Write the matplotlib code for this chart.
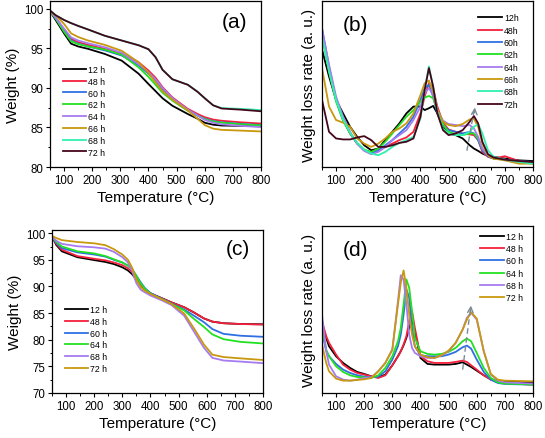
import matplotlib
matplotlib.use('Agg')
import matplotlib.pyplot as plt
from matplotlib.ticker import MultipleLocator, NullLocator

plt.rcParams['font.family'] = ['Liberation Sans', 'DejaVu Sans']

# ---------------- Panel (a): TGA ----------------
T_a = [50, 70, 100, 125, 150, 185, 245, 305, 365, 400, 425, 450, 485, 540, 575, 600, 630, 660, 730, 800]
a_12h = [99.7, 98.6, 96.9, 95.6, 95.25, 94.95, 94.3, 93.45, 91.8, 90.5, 89.6, 88.7, 87.75, 86.7, 86.1, 85.6, 85.35, 85.25, 85.2, 85.15]
a_48h = [99.7, 98.9, 97.4, 96.2, 95.8, 95.45, 94.95, 94.3, 93.25, 92.2, 91.3, 90.1, 88.8, 87.35, 86.7, 86.3, 86.0, 85.85, 85.65, 85.5]
a_60h = [99.7, 98.8, 97.2, 96.0, 95.6, 95.25, 94.75, 94.1, 92.85, 91.8, 90.9, 89.8, 88.6, 87.2, 86.5, 86.1, 85.8, 85.65, 85.45, 85.3]
a_62h = [99.7, 98.8, 97.1, 95.9, 95.55, 95.25, 94.85, 94.2, 92.6, 91.4, 90.4, 89.4, 88.4, 87.1, 86.5, 86.05, 85.75, 85.6, 85.4, 85.25]
a_64h = [99.7, 98.9, 97.5, 96.4, 96.0, 95.65, 95.15, 94.45, 93.0, 92.0, 91.1, 90.0, 88.7, 87.25, 86.5, 85.95, 85.6, 85.4, 85.2, 85.05]
a_66h = [99.6, 99.2, 98.1, 96.9, 96.45, 96.0, 95.45, 94.7, 93.25, 91.9, 90.7, 89.6, 88.5, 87.15, 86.1, 85.3, 84.85, 84.7, 84.6, 84.5]
a_68h = [99.8, 99.2, 98.6, 98.2, 97.85, 97.4, 96.6, 96.0, 95.4, 94.9, 93.9, 92.3, 91.1, 90.4, 89.5, 88.7, 87.8, 87.45, 87.35, 87.2]
a_72h = [99.8, 99.2, 98.6, 98.2, 97.85, 97.4, 96.6, 96.0, 95.4, 94.9, 93.9, 92.3, 91.1, 90.4, 89.5, 88.7, 87.8, 87.4, 87.25, 87.05]
labels_a = ['12 h', '48 h', '60 h', '62 h', '64 h', '66 h', '68 h', '72 h']

# ---------------- Panel (b): DTG (a.u.) ----------------
T_b = [50, 75, 100, 125, 150, 175, 200, 225, 250, 275, 300, 325, 350, 375, 400, 415, 430, 445,
       460, 480, 500, 525, 550, 575, 590, 605, 620, 640, 660, 700, 750, 800]
b_12h = [70.7, 54.5, 40.4, 32.3, 24.2, 18.2, 13.1, 10.1, 11.1, 16.2, 21.2, 26.3, 32.3, 36.4, 36.4, 34.3,
         35.4, 36.8, 32.3, 24.2, 20.2, 19.2, 17.2, 13.1, 11.1, 9.7, 8.1, 6.7, 6.1, 5.1, 4.0, 3.6]
b_48h = [80.8, 58.6, 40.4, 28.3, 20.2, 14.1, 10.1, 8.1, 9.7, 12.1, 14.1, 16.2, 17.8, 21.2, 32.3, 42.4,
         50.5, 47.5, 36.4, 26.7, 22.6, 21.2, 20.2, 19.6, 19.2, 16.2, 9.1, 6.1, 5.1, 6.5, 3.6, 2.6]
b_60h = [83.8, 60.6, 40.4, 28.3, 20.2, 14.1, 10.1, 8.1, 10.1, 13.1, 16.2, 20.2, 24.2, 30.3, 40.4, 47.5,
         49.5, 42.4, 32.3, 25.3, 22.2, 21.2, 20.2, 21.2, 20.2, 16.2, 10.1, 6.5, 5.1, 4.4, 3.6, 3.0]
b_62h = [78.8, 57.6, 39.4, 27.9, 20.2, 14.5, 10.5, 9.1, 11.1, 15.2, 20.2, 25.3, 30.3, 34.3, 39.4, 41.8,
         42.8, 41.4, 34.3, 25.9, 21.2, 19.8, 19.2, 20.2, 20.2, 17.2, 11.1, 7.1, 5.1, 4.4, 3.0, 2.0]
b_64h = [82.8, 61.6, 42.4, 30.3, 21.2, 14.1, 9.7, 7.7, 9.1, 12.1, 16.2, 19.2, 22.2, 28.3, 36.4, 44.4,
         47.5, 43.4, 34.3, 27.9, 25.9, 25.3, 24.6, 25.3, 23.2, 18.2, 11.1, 7.1, 5.7, 4.4, 3.0, 2.4]
b_66h = [59.6, 36.4, 28.3, 26.7, 24.2, 17.2, 14.1, 12.1, 14.1, 17.2, 21.2, 23.2, 26.3, 32.3, 43.4, 50.5,
         52.1, 45.5, 34.3, 27.3, 25.3, 24.6, 25.9, 28.7, 29.1, 24.2, 14.1, 7.1, 5.1, 4.0, 2.0, 2.0]
b_68h = [78.8, 57.6, 40.4, 28.7, 20.6, 14.5, 10.5, 8.1, 7.1, 9.1, 12.1, 14.5, 16.2, 18.2, 29.3, 46.5,
         60.6, 48.5, 33.3, 23.2, 20.2, 19.2, 19.2, 21.2, 24.2, 25.9, 20.2, 10.1, 6.1, 4.4, 3.0, 2.0]
b_72h = [40.4, 21.2, 17.2, 16.6, 16.6, 17.8, 18.6, 16.2, 12.1, 12.1, 13.1, 14.5, 15.2, 17.2, 30.3, 46.5,
         59.6, 48.5, 32.3, 22.2, 19.2, 20.2, 22.2, 27.3, 30.7, 26.3, 15.2, 7.7, 5.7, 4.4, 3.6, 3.0]
labels_b = ['12h', '48h', '60h', '62h', '64h', '66h', '68h', '72h']

# ---------------- Panel (c): TGA ----------------
T_c = [50, 65, 85, 140, 200, 240, 270, 300, 320, 335, 350, 365, 380, 400, 440, 475, 520, 555, 590, 620, 660, 720, 800]
c_12h = [99.4, 97.8, 96.6, 95.5, 94.95, 94.6, 94.2, 93.6, 93.0, 92.3, 91.3, 90.2, 89.5, 88.7, 87.8, 87.0, 86.1, 85.1, 84.0, 83.4, 83.1, 82.95, 82.9]
c_48h = [99.4, 98.0, 96.9, 95.7, 95.2, 94.9, 94.5, 94.0, 93.4, 92.7, 91.5, 90.3, 89.5, 88.7, 87.8, 87.0, 86.1, 85.1, 84.0, 83.4, 83.1, 82.95, 82.85]
c_60h = [99.4, 98.2, 97.2, 96.4, 96.0, 95.6, 95.0, 94.5, 93.9, 93.2, 92.0, 90.8, 89.7, 88.75, 87.7, 86.8, 85.65, 84.5, 83.3, 82.0, 81.1, 80.75, 80.55]
c_64h = [99.4, 98.4, 97.5, 96.6, 96.2, 95.7, 95.1, 94.5, 93.9, 93.2, 92.0, 90.6, 89.6, 88.6, 87.6, 86.7, 85.5, 83.9, 82.4, 81.0, 80.1, 79.6, 79.3]
c_68h = [99.3, 98.6, 98.0, 97.55, 97.35, 97.1, 96.5, 95.5, 94.5, 92.9, 90.6, 89.4, 88.9, 88.3, 87.4, 86.5, 84.5, 81.5, 78.5, 76.6, 76.1, 75.9, 75.6]
c_72h = [99.5, 99.1, 98.7, 98.35, 98.1, 97.75, 97.0, 96.0, 95.0, 93.5, 91.3, 89.9, 89.2, 88.6, 87.6, 86.7, 84.9, 82.1, 79.1, 77.2, 76.75, 76.5, 76.2]
labels_c = ['12 h', '48 h', '60 h', '64 h', '68 h', '72 h']

# ---------------- Panel (d): DTG (a.u.) ----------------
T_d = [50, 65, 75, 100, 125, 150, 175, 200, 225, 250, 275, 300, 320, 330, 340, 350, 360, 370, 380,
       400, 425, 450, 475, 500, 525, 550, 565, 580, 600, 625, 650, 675, 700, 750, 800]
d_12h = [41, 33, 28, 22, 18, 15, 12.6, 11.4, 10, 9.4, 11, 16.6, 22, 25, 28.6, 33, 39, 43.6, 37,
         21, 17.4, 17, 17, 17, 17.4, 18.4, 17, 15.6, 13.4, 10.6, 8.2, 7, 6.6, 6.6, 6.4]
d_48h = [43, 34, 30, 23, 17, 14, 12, 11, 10, 9, 10.6, 16.6, 22, 25, 29, 34, 43, 49, 39,
         22, 19, 18, 18, 18, 18.6, 19.4, 18.6, 16.6, 14, 10.6, 8, 6.6, 6, 5.4, 5]
d_60h = [37, 25, 22, 17.4, 14, 12, 10.6, 9.8, 9.4, 9.8, 13, 20, 28, 35, 47, 62, 57, 39, 28,
         22.6, 22, 22, 22, 23, 24.6, 27.4, 28.4, 26.6, 20, 12.6, 8, 6, 5.4, 5.2, 5]
d_64h = [39, 26, 22, 16, 12.6, 10.6, 9.6, 9.4, 9, 10.6, 15, 22, 31, 39, 53, 68, 63, 49, 33,
         25, 23.4, 23, 23.4, 24.6, 27, 31, 32.6, 31, 24, 15, 9, 6.4, 5.6, 5.4, 5]
d_68h = [47, 25, 17, 10, 8, 7.4, 8, 9, 9.4, 13, 18, 26, 55, 70.5, 68, 53, 35, 27, 24,
         22, 21, 21, 22.6, 25, 30, 38, 45, 48, 44, 25, 11, 7.4, 6.4, 6, 5.6]
d_72h = [29, 18, 13, 8.6, 7.4, 7.4, 7.8, 8.2, 9, 13, 18, 26, 53, 66, 73.4, 63, 47, 35, 28,
         23, 21.4, 21, 22.6, 25.4, 30, 38, 44, 48.4, 44.6, 25, 11.4, 8, 7.4, 7.2, 7]
labels_d = ['12 h', '48 h', '60 h', '64 h', '68 h', '72 h']

# ---------------- styles ----------------
BLACK = '#000000'
RED = '#f5203c'
BLUE = '#2f6fe4'
GREEN = '#22e022'
PURPLE = '#a77bf0'
GOLD = '#c8980e'
MINT = '#30f0b0'
MAROON = '#45061c'
colors_ab = [BLACK, RED, BLUE, GREEN, PURPLE, GOLD, MINT, MAROON]
colors_cd = [BLACK, RED, BLUE, GREEN, PURPLE, GOLD]

W, H = 545, 439
fig = plt.figure(figsize=(W / 100, H / 100), dpi=100)


def add_ax(left, top, right, bottom):
    return fig.add_axes([left / W, (H - bottom) / H, (right - left) / W, (bottom - top) / H])


ax_a = add_ax(50, 2, 261, 168)
ax_b = add_ax(322, 2, 533, 168)
ax_c = add_ax(52, 231, 263, 394)
ax_d = add_ax(322, 227, 533, 394)

LW = 1.3
TICK_FS = 8.3
LABEL_FS = 11
LEG_FS = 6.3


def style(ax, ylab, yticks=True):
    ax.set_xlim(50, 800)
    ax.xaxis.set_major_locator(MultipleLocator(100))
    ax.xaxis.set_minor_locator(MultipleLocator(50))
    ax.tick_params(axis='both', which='major', direction='out', length=3, width=0.8,
                   labelsize=TICK_FS, pad=2)
    ax.tick_params(axis='both', which='minor', direction='out', length=1.8, width=0.7)
    for s in ax.spines.values():
        s.set_linewidth(0.9)
    ax.set_xlabel('Temperature (\u00b0C)', fontsize=LABEL_FS, labelpad=3)
    ax.set_ylabel(ylab, fontsize=LABEL_FS, labelpad=3 if yticks else 4)
    if not yticks:
        ax.yaxis.set_major_locator(NullLocator())
        ax.yaxis.set_minor_locator(NullLocator())


def legend(ax, x, y, spacing):
    ax.legend(loc='upper left', bbox_to_anchor=(x, y), frameon=False, fontsize=LEG_FS,
              handlelength=2.7, handletextpad=0.25, labelspacing=spacing, borderaxespad=0,
              borderpad=0)


# (a)
for yv, c, lab in zip([a_12h, a_48h, a_60h, a_62h, a_64h, a_66h, a_68h, a_72h], colors_ab, labels_a):
    ax_a.plot(T_a, yv, color=c, lw=LW, label=lab)
ax_a.set_ylim(80, 101)
ax_a.yaxis.set_major_locator(MultipleLocator(5))
ax_a.yaxis.set_minor_locator(MultipleLocator(2.5))
style(ax_a, 'Weight (%)')
legend(ax_a, 0.06, 0.615, 0.32)
ax_a.text(0.875, 0.875, '(a)', transform=ax_a.transAxes, fontsize=15, ha='center', va='center')

# (b)
for yv, c, lab in zip([b_12h, b_48h, b_60h, b_62h, b_64h, b_66h, b_68h, b_72h], colors_ab, labels_b):
    ax_b.plot(T_b, yv, color=c, lw=LW, label=lab)
ax_b.set_ylim(0, 100)
style(ax_b, 'Weight loss rate (a. u.)', yticks=False)
legend(ax_b, 0.74, 0.925, 0.38)
ax_b.text(0.157, 0.86, '(b)', transform=ax_b.transAxes, fontsize=15, ha='center', va='center')
ax_b.plot([565, 592], [9.8, 35.5], color='#7d8a96', lw=1.0, ls=(0, (4, 2.5)))
ax_b.annotate('', xy=(594, 37.5), xytext=(591, 31), arrowprops=dict(arrowstyle='->', color='#7d8a96', lw=1.0,
                                                                      mutation_scale=10))

# (c)
for yv, c, lab in zip([c_12h, c_48h, c_60h, c_64h, c_68h, c_72h], colors_cd, labels_c):
    ax_c.plot(T_c, yv, color=c, lw=LW, label=lab)
ax_c.set_ylim(70, 100.6)
ax_c.yaxis.set_major_locator(MultipleLocator(5))
ax_c.yaxis.set_minor_locator(MultipleLocator(2.5))
style(ax_c, 'Weight (%)')
legend(ax_c, 0.06, 0.54, 0.32)
ax_c.text(0.879, 0.888, '(c)', transform=ax_c.transAxes, fontsize=15, ha='center', va='center')

# (d)
for yv, c, lab in zip([d_12h, d_48h, d_60h, d_64h, d_68h, d_72h], colors_cd, labels_d):
    ax_d.plot(T_d, yv, color=c, lw=LW, label=lab)
ax_d.set_ylim(0, 100)
style(ax_d, 'Weight loss rate (a. u.)', yticks=False)
legend(ax_d, 0.75, 0.965, 0.38)
ax_d.text(0.159, 0.862, '(d)', transform=ax_d.transAxes, fontsize=15, ha='center', va='center')
ax_d.plot([550, 578], [14, 51], color='#7d8a96', lw=1.0, ls=(0, (4, 2.5)))
ax_d.annotate('', xy=(580, 54), xytext=(577, 47), arrowprops=dict(arrowstyle='->', color='#7d8a96', lw=1.0,
                                                                    mutation_scale=10))

fig.savefig('out.png', dpi=100)
